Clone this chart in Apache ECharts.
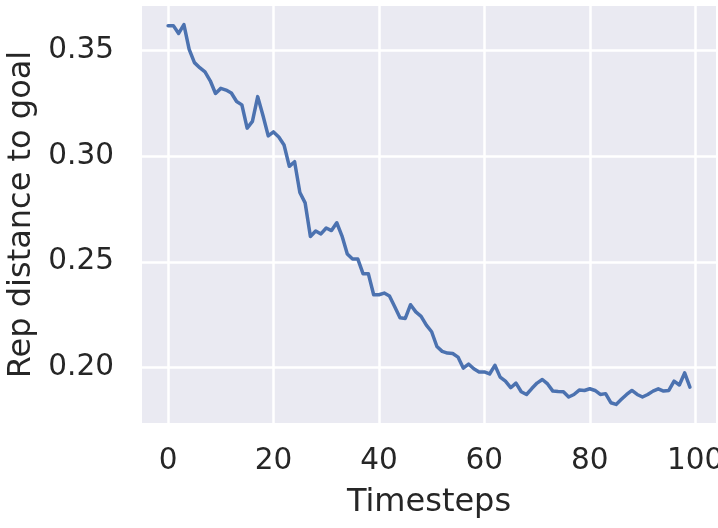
<!DOCTYPE html>
<html>
<head>
<meta charset="utf-8">
<script src="https://cdn.jsdelivr.net/npm/echarts@6/dist/echarts.min.js"></script>
<style>html,body{margin:0;padding:0;background:#fff;}#c{width:718px;height:528px;}</style>
</head>
<body>
<div id="c"></div>
<script>
const timesteps = Array.from({length: 100}, (_, i) => i);
const repDistance = [
  0.3618, 0.3618, 0.3581, 0.3623, 0.3506, 0.3443, 0.3419, 0.3399, 0.3357, 0.3297,
  0.3321, 0.3313, 0.3299, 0.3259, 0.3243, 0.3133, 0.3165, 0.3282, 0.3193, 0.3096,
  0.3115, 0.3091, 0.3053, 0.2952, 0.2974, 0.2828, 0.2779, 0.2620, 0.2646, 0.2632,
  0.2660, 0.2648, 0.2685, 0.2622, 0.2537, 0.2513, 0.2513, 0.2443, 0.2443, 0.2344,
  0.2344, 0.2352, 0.2338, 0.2287, 0.2235, 0.2232, 0.2297, 0.2263, 0.2242, 0.2200,
  0.2169, 0.2099, 0.2076, 0.2068, 0.2066, 0.2049, 0.1997, 0.2016, 0.1994, 0.1979,
  0.1979, 0.1969, 0.2010, 0.1954, 0.1935, 0.1904, 0.1926, 0.1885, 0.1872, 0.1900,
  0.1926, 0.1943, 0.1922, 0.1888, 0.1886, 0.1885, 0.1860, 0.1872, 0.1893, 0.1891,
  0.1899, 0.1891, 0.1872, 0.1876, 0.1833, 0.1825, 0.1849, 0.1872, 0.1891, 0.1872,
  0.1860, 0.1872, 0.1888, 0.1899, 0.1888, 0.1891, 0.1935, 0.1917, 0.1974, 0.1907
];
const xTicks = [0, 20, 40, 60, 80, 100];
const yTicks = [0.20, 0.25, 0.30, 0.35];

const textColor = '#262626';
const font = 'DejaVu Sans';
const chart = echarts.init(document.getElementById('c'), null, {renderer: 'canvas'});
chart.setOption({
  animation: false,
  backgroundColor: '#ffffff',
  grid: {left: 142, right: 2, top: 6, bottom: 105, show: true, backgroundColor: '#EAEAF2', borderWidth: 0,
    containLabel: false, outerBoundsMode: 'none'},
  xAxis: {
    type: 'value', min: -4.95, max: 103.95,
    name: 'Timesteps', nameLocation: 'middle', nameGap: 64,
    nameTextStyle: {color: textColor, fontSize: 32, fontFamily: font},
    axisLine: {show: false},
    axisTick: {show: false, customValues: xTicks},
    axisLabel: {customValues: xTicks, color: textColor, fontSize: 29.5, fontFamily: font, margin: 23, hideOverlap: false},
    splitLine: {show: true, lineStyle: {color: '#ffffff', width: 2.5}}
  },
  yAxis: {
    type: 'value', min: 0.1737, max: 0.3711,
    name: 'Rep distance to goal', nameLocation: 'middle', nameGap: 104,
    nameTextStyle: {color: textColor, fontSize: 32, fontFamily: font},
    axisLine: {show: false},
    axisTick: {show: false, customValues: yTicks},
    axisLabel: {customValues: yTicks, color: textColor, fontSize: 29.5, fontFamily: font, margin: 28,
      formatter: v => v.toFixed(2)},
    splitLine: {show: true, lineStyle: {color: '#ffffff', width: 2.5}}
  },
  series: [{
    type: 'line',
    data: timesteps.map((t, i) => [t, repDistance[i]]),
    showSymbol: false,
    lineStyle: {color: '#4C72B0', width: 3.5, join: 'round', cap: 'round'},
    itemStyle: {color: '#4C72B0'}
  }]
});
</script>
</body>
</html>
